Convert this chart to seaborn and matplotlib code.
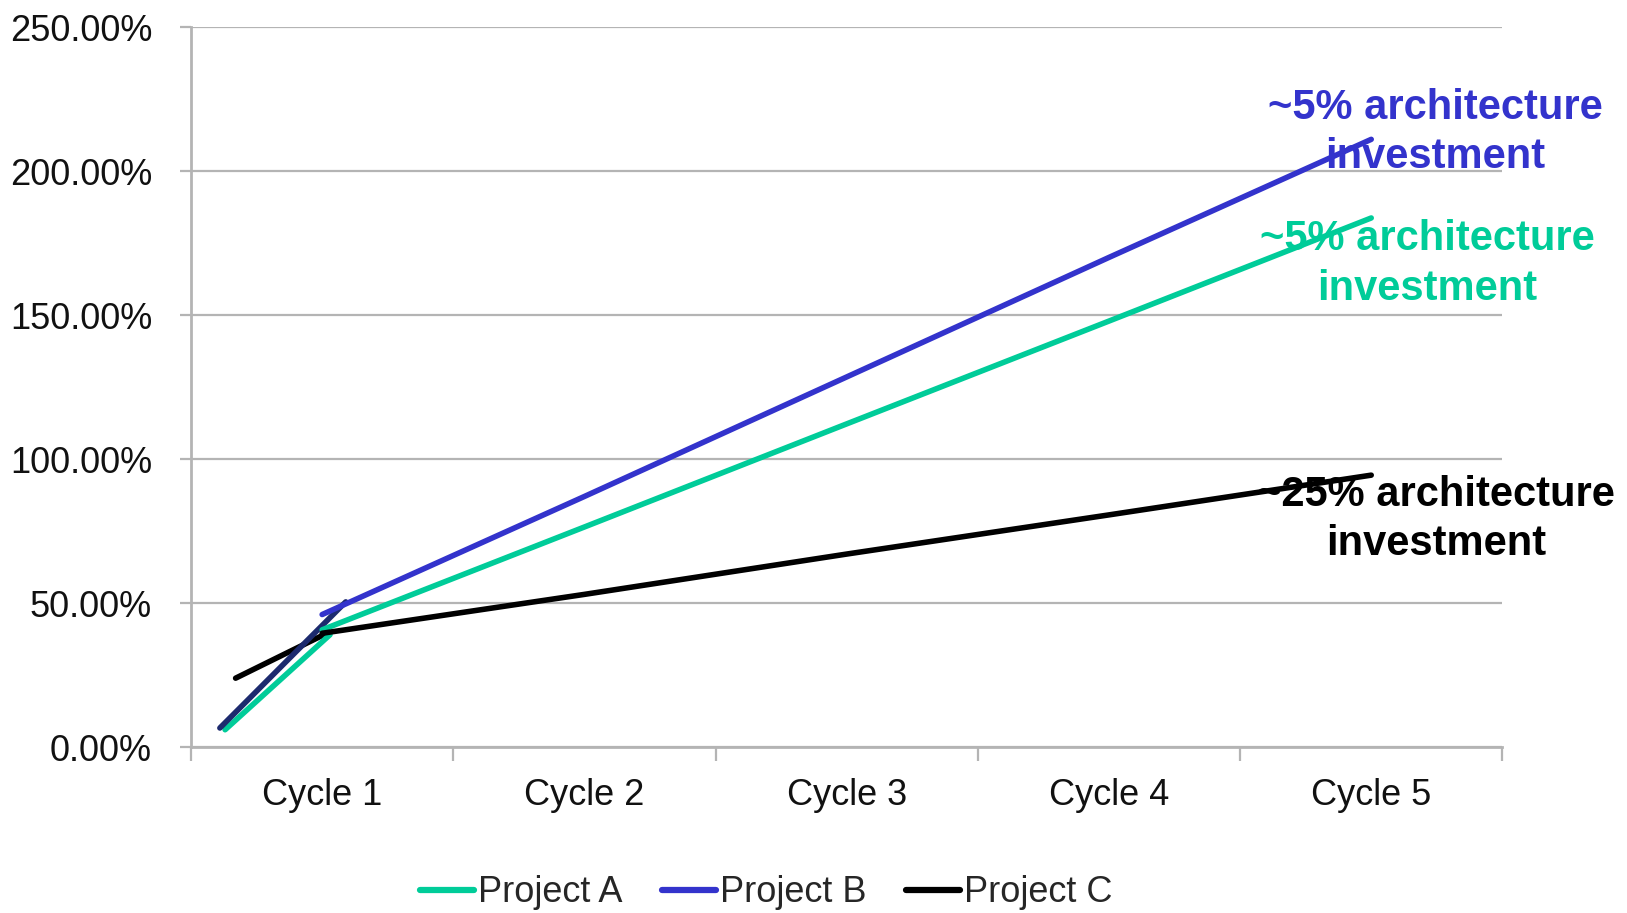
import numpy as np
import pandas as pd
import matplotlib.pyplot as plt
from matplotlib.lines import Line2D
from matplotlib.ticker import StrMethodFormatter, FixedLocator, NullFormatter
import seaborn as sns

sns.set_theme(style="white")
plt.rcParams['font.family'] = ['Liberation Sans', 'DejaVu Sans']

# data (values in %)
cycles = ["Cycle 1", "Cycle 2", "Cycle 3", "Cycle 4", "Cycle 5"]
project_a = [40.7, 76.4, 112.2, 147.9, 183.7]
project_b = [46.0, 87.0, 128.5, 170.0, 211.0]
project_c = [39.5, 53.0, 67.0, 80.6, 94.4]

# short ramp segments drawn before cycle 1 (x in cycle units, 0 = Cycle 1)
ramp_a_x = [-0.37, 0.03]
ramp_a_y = [6.0, 39.0]
ramp_b_x = [-0.39, 0.09]
ramp_b_y = [6.6, 50.4]
ramp_c_x = [-0.33, 0.02]
ramp_c_y = [23.9, 39.6]

projects = ["Project A", "Project B", "Project C"]
colors = {"Project A": "#00CC99", "Project B": "#3333CC", "Project C": "#000000"}
ramp_colors = {"Project A": "#00CC99", "Project B": "#1C2A6E", "Project C": "#000000"}
notes = ["~5% architecture\ninvestment", "~5% architecture\ninvestment", "~25% architecture\ninvestment"]

main = pd.DataFrame({
    "pos": list(range(len(cycles))) * 3,
    "value": project_a + project_b + project_c,
    "project": np.repeat(projects, len(cycles)),
})
ramps = pd.DataFrame({
    "pos": ramp_c_x + ramp_a_x + ramp_b_x,
    "value": ramp_c_y + ramp_a_y + ramp_b_y,
    "project": np.repeat(["Project C", "Project A", "Project B"], 2),
})

fig = plt.figure(figsize=(16.27, 9.13), dpi=100)
ax = fig.add_axes([0.1174, 0.1818, 0.806, 0.7886])

grid_col = "#b4b4b4"
ax.set_axisbelow(True)
ax.yaxis.grid(True, color=grid_col, linewidth=1.6)

# annotations sit under the lines
note_style = dict(fontsize=30, fontweight="bold", ha="center", va="center",
                  linespacing=1.3, zorder=1, clip_on=False)
ax.text(4.243, 213.4, notes[1], color=colors["Project B"], **note_style)
ax.text(4.215, 167.7, notes[0], color=colors["Project A"], **note_style)
ax.text(4.247, 79.1, notes[2], color=colors["Project C"], **note_style)

sns.lineplot(data=ramps, x="pos", y="value", hue="project", palette=ramp_colors,
             estimator=None, sort=False, linewidth=4, legend=False, ax=ax, zorder=3)
sns.lineplot(data=main, x="pos", y="value", hue="project", palette=colors,
             estimator=None, sort=False, linewidth=4, legend=False, ax=ax, zorder=4)

ax.set_xlim(-0.5, len(cycles) - 0.5)
ax.set_ylim(0, 250)
ax.set_yticks(np.arange(0, 251, 50))
ax.yaxis.set_major_formatter(StrMethodFormatter("{x:.2f}%"))
ax.tick_params(axis="y", left=True, length=8, width=1.6, color=grid_col,
               labelsize=26, pad=20, labelcolor="#111111")

# tick marks between categories, labels at the centres
ax.xaxis.set_major_locator(FixedLocator(np.arange(-0.5, len(cycles), 1.0)))
ax.xaxis.set_major_formatter(NullFormatter())
ax.xaxis.set_minor_locator(FixedLocator(np.arange(len(cycles))))
ax.set_xticklabels(cycles, minor=True)
ax.tick_params(axis="x", which="major", bottom=True, length=10, width=1.6, color=grid_col)
ax.tick_params(axis="x", which="minor", bottom=True, length=0, labelsize=26, pad=22,
               labelcolor="#111111")

ax.set_xlabel("")
ax.set_ylabel("")
for side in ["top", "right"]:
    ax.spines[side].set_visible(False)
for side in ["left", "bottom"]:
    ax.spines[side].set_color(grid_col)
    ax.spines[side].set_linewidth(2)

handles = [Line2D([0], [0], color=colors[p], linewidth=4.5) for p in projects]
fig.legend(handles, projects, loc="center", bbox_to_anchor=(0.471, 0.022), ncol=3,
           frameon=False, fontsize=26, handlelength=1.5, handletextpad=0.1,
           columnspacing=1.1)

fig.savefig("out.png", dpi=100)
